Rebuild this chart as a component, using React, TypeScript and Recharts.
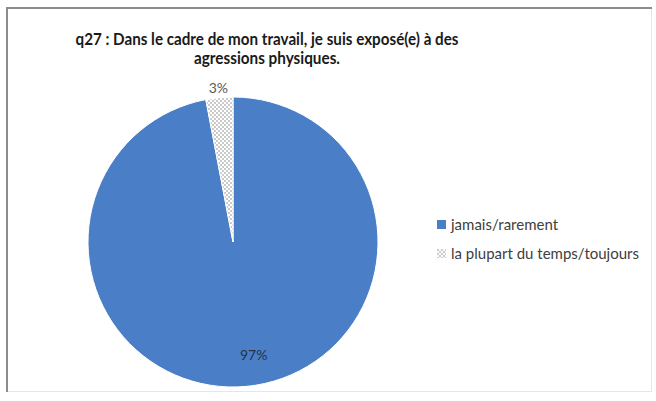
import { PieChart, Pie, Cell, Legend } from "recharts";

const categories = ["jamais/rarement", "la plupart du temps/toujours"];
const values = [97, 3];
const titleLines = [
  "q27 : Dans le cadre de mon travail, je suis exposé(e) à des",
  "agressions physiques.",
];

const data = categories.map((name, i) => ({ name, value: values[i] }));

const BLUE = "#4a7ec6";
const FONT = "Lato, 'Open Sans', sans-serif";
const RAD = Math.PI / 180;

const renderLabel = (props: any) => {
  const { cx, cy, midAngle, outerRadius, index, value } = props;
  const r = index === 0 ? outerRadius - 32 : outerRadius + 10;
  const x = cx + r * Math.cos(-midAngle * RAD) + (index === 0 ? 10 : 0);
  const y = cy + r * Math.sin(-midAngle * RAD);
  return (
    <text
      x={x}
      y={y}
      textAnchor="middle"
      dominantBaseline="central"
      fontSize={14}
      fontFamily={FONT}
      fill={index === 0 ? "#24324a" : "#595959"}
    >
      {value}%
    </text>
  );
};

const renderLegend = () => (
  <div style={{ fontFamily: FONT, fontSize: 15, color: "#404040" }}>
    {categories.map((c, i) => (
      <div
        key={c}
        style={{ display: "flex", alignItems: "center", height: 16, marginBottom: 13 }}
      >
        <svg width={9} height={9} style={{ marginRight: 5, flex: "none" }}>
          <rect
            width={9}
            height={9}
            fill={i === 0 ? BLUE : "url(#dots)"}
            stroke={i === 0 ? "none" : "#ddd"}
            strokeWidth={0.5}
          />
        </svg>
        <span style={{ whiteSpace: "nowrap" }}>{c}</span>
      </div>
    ))}
  </div>
);

export default function App() {
  return (
    <div
      style={{
        position: "fixed",
        left: 0,
        top: 0,
        width: 656,
        height: 401,
        background: "#fff",
        overflow: "hidden",
      }}
    >
      <div style={{ position: "absolute", left: 0, top: 0 }}>
        <PieChart width={656} height={401} margin={{ top: 0, right: 0, bottom: 0, left: 0 }}>
          <defs>
            <pattern id="dots" width={4} height={4} patternUnits="userSpaceOnUse">
              <rect width={4} height={4} fill="#fff" />
              <circle cx={1} cy={1} r={0.9} fill="#b0b0b0" />
              <circle cx={3} cy={3} r={0.9} fill="#b0b0b0" />
            </pattern>
          </defs>
          <Pie
            data={data}
            dataKey="value"
            nameKey="name"
            cx={233}
            cy={242}
            outerRadius={145}
            startAngle={90}
            endAngle={-270}
            stroke="#fff"
            strokeWidth={1}
            label={renderLabel}
            labelLine={false}
            isAnimationActive={false}
          >
            {data.map((d, i) => (
              <Cell key={d.name} fill={i === 0 ? BLUE : "url(#dots)"} />
            ))}
          </Pie>
          <Legend
            layout="vertical"
            verticalAlign="top"
            align="right"
            wrapperStyle={{ left: 437, top: 216, right: "auto", width: 218 }}
            content={renderLegend}
          />
        </PieChart>
      </div>
      <svg
        width={656}
        height={401}
        style={{ position: "absolute", left: 0, top: 0, pointerEvents: "none" }}
      >
        <line x1={651.5} y1={8} x2={651.5} y2={391} stroke="#e6e6e6" />
        <line x1={6} y1={391.5} x2={652} y2={391.5} stroke="#e6e6e6" />
        <line x1={6} y1={8} x2={652} y2={8} stroke="#8c8c8c" strokeWidth={2} />
        <line x1={7} y1={7} x2={7} y2={392} stroke="#8c8c8c" strokeWidth={2} />
        {titleLines.map((t, i) => (
          <text
            key={t}
            x={267}
            y={45 + i * 19}
            textAnchor="middle"
            fontFamily={FONT}
            fontWeight={700}
            fontSize={17}
            fill="#1a1a1a"
            textLength={i === 0 ? 383 : 146}
            lengthAdjust="spacingAndGlyphs"
          >
            {t}
          </text>
        ))}
      </svg>
    </div>
  );
}
